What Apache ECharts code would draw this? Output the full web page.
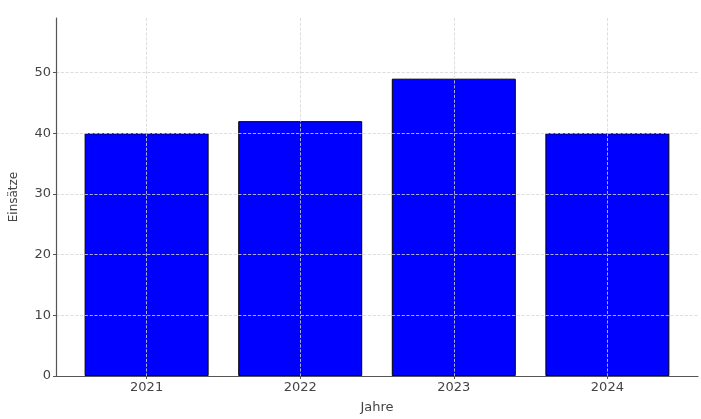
<!DOCTYPE html>
<html><head><meta charset="utf-8">
<script src="https://cdn.jsdelivr.net/npm/echarts@6/dist/echarts.min.js"></script>
<style>html,body{margin:0;padding:0;background:#fff}#c{width:701px;height:419px}</style>
</head><body><div id="c"></div>
<script>
const years = ['2021', '2022', '2023', '2024'];
const einsaetze = [40, 42, 49, 40];
const yTicks = [0, 10, 20, 30, 40, 50];

const chart = echarts.init(document.getElementById('c'), null, {renderer: 'canvas'});
const positions = years.map((_, i) => i);
const font = 'DejaVu Sans';
const grid = {type: 'dashed', color: '#d6d6d6', width: 0.8};
chart.setOption({
  animation: false,
  grid: {left: 55, right: 3, top: 18, bottom: 40, containLabel: false},
  xAxis: {
    type: 'value', min: -0.59, max: 3.59, z: 3,
    name: 'Jahre', nameLocation: 'middle', nameGap: 25,
    nameTextStyle: {fontFamily: font, fontSize: 13, color: '#444'},
    axisLine: {show: true, onZero: false, lineStyle: {color: '#555', width: 1.2}},
    axisTick: {show: true, length: 3, customValues: positions, lineStyle: {color: '#555'}},
    axisLabel: {customValues: positions, formatter: v => years[Math.round(v)], margin: 5,
      fontFamily: font, fontSize: 13, color: '#444'},
    splitLine: {show: true, lineStyle: grid}
  },
  yAxis: {
    type: 'value', min: 0, max: 59, z: 3,
    name: 'Einsätze', nameLocation: 'middle', nameGap: 36, nameRotate: 90,
    nameTextStyle: {fontFamily: font, fontSize: 12, color: '#444'},
    axisLine: {show: true, onZero: false, lineStyle: {color: '#555', width: 1.2}},
    axisTick: {show: true, length: 3, customValues: yTicks, lineStyle: {color: '#555'}},
    axisLabel: {customValues: yTicks, margin: 5, fontFamily: font, fontSize: 13, color: '#444'},
    splitLine: {show: true, lineStyle: grid}
  },
  series: [{
    type: 'bar', z: 1,
    barWidth: 124,
    data: einsaetze.map((v, i) => [i, v]),
    itemStyle: {color: '#0000ff', borderColor: '#000', borderWidth: 1}
  }]
});
</script></body></html>
